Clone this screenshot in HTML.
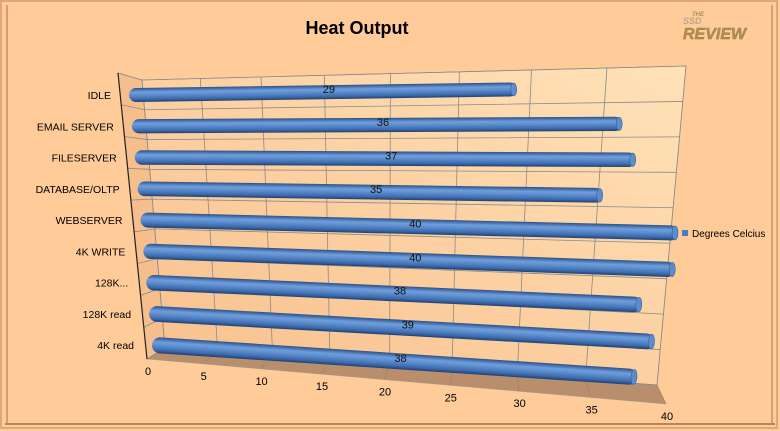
<!DOCTYPE html>
<html><head><meta charset="utf-8"><style>
html,body{margin:0;padding:0;background:#FECB99;}
svg{display:block;font-family:"Liberation Sans",sans-serif;}
</style></head><body>
<svg id="chart" width="780" height="431" viewBox="0 0 780 431">
<defs>
<linearGradient id="wallG" x1="0" y1="1" x2="1" y2="0">
<stop offset="0" stop-color="#F9BF8C"/><stop offset="1" stop-color="#FFE2B8"/></linearGradient>
<linearGradient id="barG" x1="0" y1="0" x2="0" y2="1">
<stop offset="0" stop-color="#2A5088"/><stop offset="0.3" stop-color="#6F9EDC"/><stop offset="0.45" stop-color="#6393D3"/><stop offset="0.8" stop-color="#3C6CAE"/><stop offset="1" stop-color="#203F70"/></linearGradient>
</defs>
<rect x="0" y="0" width="780" height="431" fill="#FECB99"/>
<rect x="1" y="1" width="776" height="427" fill="none" stroke="#E0A878" stroke-width="2"/>
<line x1="7" y1="5" x2="7" y2="425" stroke="#C89066" stroke-width="1.5"/>
<line x1="772" y1="5" x2="772" y2="425" stroke="#C89066" stroke-width="1.5"/>
<line x1="5" y1="424" x2="775" y2="424" stroke="#B8845A" stroke-width="2"/>
<text x="357" y="34" text-anchor="middle" font-size="18" font-weight="bold" fill="#000">Heat Output</text>
<g font-weight="bold" font-style="italic">
<text x="692" y="16" font-size="6" fill="#A89060">THE</text>
<text x="683" y="24" font-size="9" fill="#B8A890">SSD</text>
<text x="683" y="39" font-size="16" fill="#B89040" stroke="#8a7a60" stroke-width="0.4">REVIEW</text>
</g>
<g id="plot"></g>
<rect x="682" y="230" width="6" height="6" fill="#4A7CC0"/>
<text x="692" y="237" font-size="10" fill="#000">Degrees Celcius</text>
</svg>
<script>
const categories=["IDLE","EMAIL SERVER","FILESERVER","DATABASE/OLTP","WEBSERVER","4K WRITE","128K...","128K read","4K read"];
const values=[29,36,37,35,40,40,38,39,38];
const ticks=[0,5,10,15,20,25,30,35,40];
const vMax=40;
const NS="http://www.w3.org/2000/svg";
const plot=document.getElementById('plot');
function mk(tag,attrs,parent){const e=document.createElementNS(NS,tag);for(const k in attrs)e.setAttribute(k,attrs[k]);(parent||plot).appendChild(e);return e;}
function lerp(a,b,t){return a+(b-a)*t;}
const K=1.19;
function P(v){const u=v/vMax;return u/(K-(K-1)*u);}
const wTL=[142,80],wTR=[686,66],wBL=[165,348],wBR=[657,385];
const fFL=[147,359],fFR=[666,404];
const sTL=[118,73];
function wallPt(v,f){const u=P(v);const top=[lerp(wTL[0],wTR[0],u),lerp(wTL[1],wTR[1],u)];const bot=[lerp(wBL[0],wBR[0],u),lerp(wBL[1],wBR[1],u)];return [lerp(top[0],bot[0],f),lerp(top[1],bot[1],f)];}
function sidePt(f){return [lerp(sTL[0],fFL[0],f),lerp(sTL[1],fFL[1],f)];}
function rowT(i){return i/(categories.length-1);}
function barStart(i){const t=rowT(i);return [132+23*t,95+250*t];}
function barEnd40(i){const t=rowT(i);return [686-22*t,87+292*t];}
function barPt(i,v){const a=barStart(i),b=barEnd40(i),u=P(v);return [lerp(a[0],b[0],u),lerp(a[1],b[1],u)];}
let e;
e=mk('polygon',{points:[sTL,wTL,wBL,fFL].map(p=>p.join(',')).join(' '),fill:'#F6BE8C',stroke:'#777','stroke-width':0.6});

e=mk('polygon',{points:[wTL,wTR,wBR,wBL].map(p=>p.join(',')).join(' '),fill:'url(#wallG)',stroke:'#888','stroke-width':0.6});

e=mk('polygon',{points:[fFL,wBL,wBR,fFR].map(p=>p.join(',')).join(' '),fill:'#B98E6C',stroke:'#999','stroke-width':0.5});

ticks.forEach(v=>{const a=wallPt(v,0),b=wallPt(v,1);
 e=mk('line',{x1:a[0],y1:a[1],x2:b[0],y2:b[1],stroke:'#8A8A8A','stroke-width':0.8});
 
 const u=P(v);const c=[lerp(fFL[0],fFR[0],u),lerp(fFL[1],fFR[1],u)];
 e=mk('line',{x1:b[0],y1:b[1],x2:c[0],y2:c[1],stroke:'#A08060','stroke-width':0.6});
 
 e=mk('text',{x:c[0]+1,y:c[1]+16,'font-size':11,'text-anchor':'middle',fill:'#000'});
 e.textContent=v;
 
});
for(let k=0;k<=categories.length;k++){const f=k/categories.length;
 const s=sidePt(f),a=wallPt(0,f),b=wallPt(vMax,f);
 e=mk('polyline',{points:[s,a,b].map(p=>p.join(',')).join(' '),fill:'none',stroke:'#8A8A8A','stroke-width':0.8});
 
}
e=mk('line',{x1:sTL[0],y1:sTL[1],x2:fFL[0],y2:fFL[1],stroke:'#222','stroke-width':1.2});

categories.forEach((c,i)=>{const t=rowT(i);
 e=mk('text',{x:111+23*t,y:99+250*t,'font-size':10.5,'text-anchor':'end',fill:'#000'});
 e.textContent=c;
 
});
values.forEach((v,i)=>{const a=barStart(i),b=barPt(i,v);
 const dx=b[0]-a[0],dy=b[1]-a[1];const L=Math.hypot(dx,dy);const ang=Math.atan2(dy,dx)*180/Math.PI;
 const h=14+2*rowT(i);
 const g=mk('g',{transform:`translate(${a[0]},${a[1]}) rotate(${ang})`});
 
 
 mk('rect',{x:-3,y:-h/2,width:L+6,height:h,rx:h/2,ry:h/2,fill:'url(#barG)'},g);
 mk('ellipse',{cx:L,cy:0,rx:3,ry:h/2-0.5,fill:'#5C8CCC',stroke:'#2F5A93','stroke-width':0.5},g);
 const m=[(a[0]+b[0])/2+6,(a[1]+b[1])/2];
 e=mk('text',{x:m[0],y:m[1]+1,'font-size':11,'text-anchor':'middle',fill:'#111'});
 e.textContent=v;
 
});
</script>
</body></html>
